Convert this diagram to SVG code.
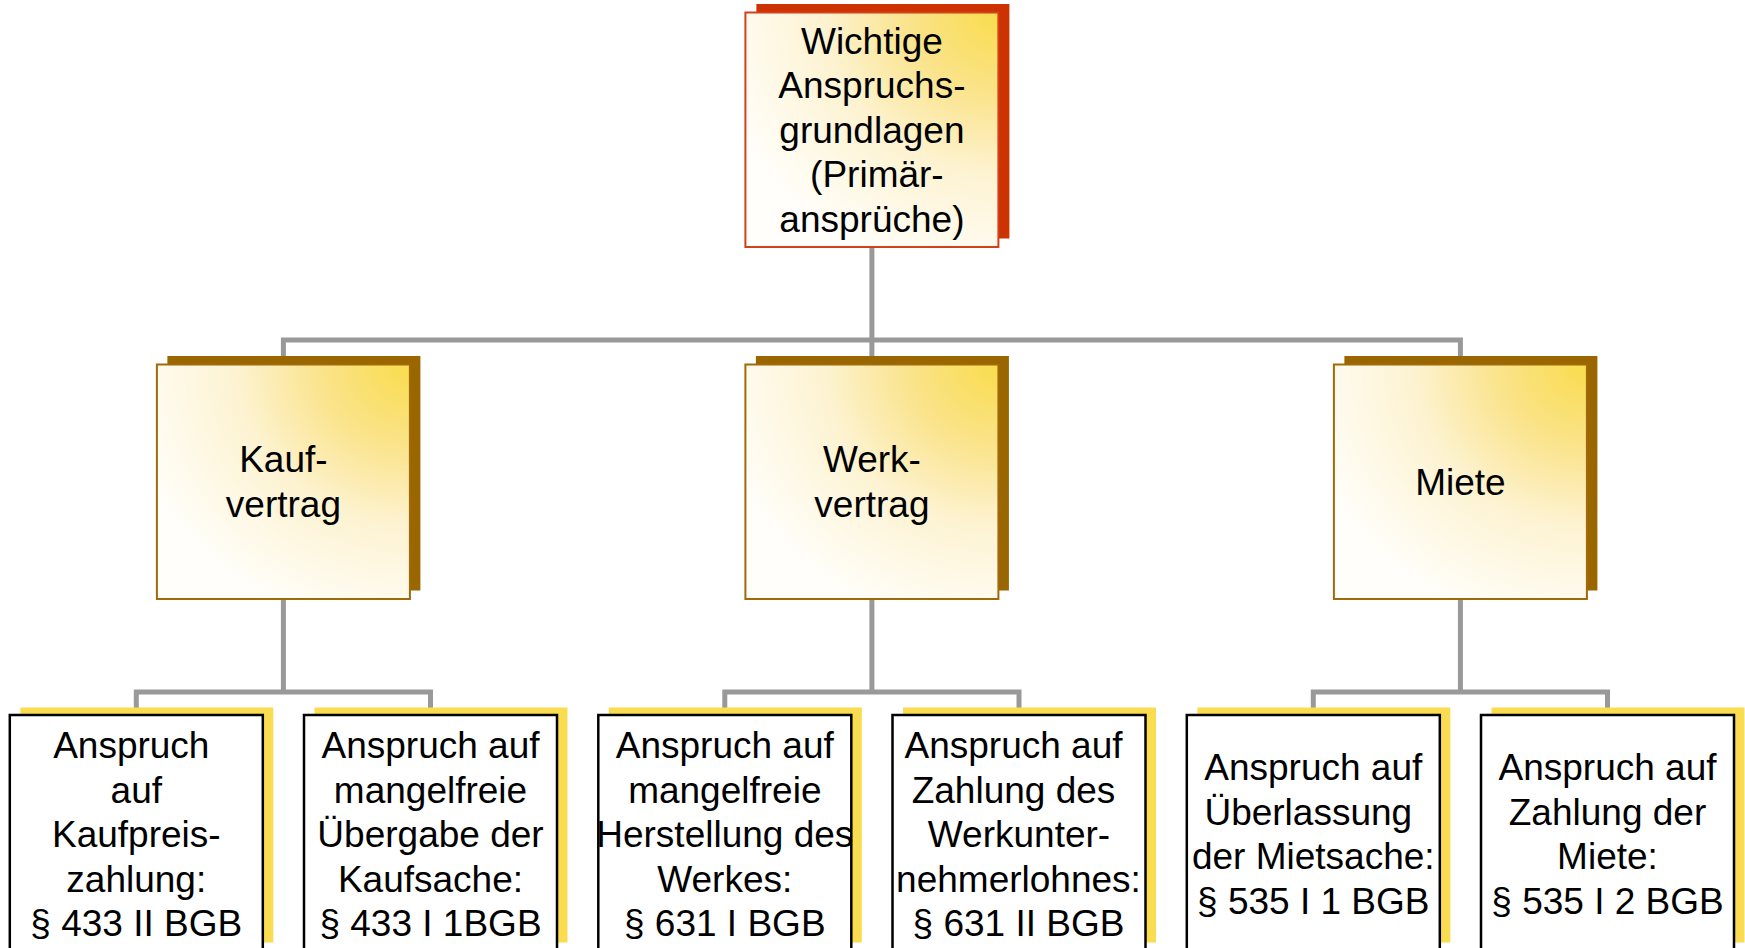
<svg xmlns="http://www.w3.org/2000/svg" width="1745" height="948" viewBox="0 0 1745 948">
<defs>
<radialGradient id="g" cx="1" cy="0" r="1.15" fx="1" fy="0">
<stop offset="0" stop-color="#F9DC4C"/>
<stop offset="0.3" stop-color="#FAE38A"/>
<stop offset="0.6" stop-color="#FDF3D2"/>
<stop offset="1" stop-color="#FFFEFA"/>
</radialGradient>
<style>
.t{font-family:"Liberation Sans",Arial,sans-serif;font-size:37px;fill:#000;text-anchor:middle}
.c{fill:none;stroke:#999;stroke-width:5}
.sTop{fill:#CC3300}
.fTop{fill:url(#g);stroke:#D4401A;stroke-width:2}
.sMid{fill:#996600}
.fMid{fill:url(#g);stroke:#A06A0A;stroke-width:2}
.sBot{fill:#F9DC50}
.fBot{fill:#fff;stroke:#000;stroke-width:2.5}
</style>
</defs>
<rect width="1745" height="948" fill="#fff"/>
<g id="connectors">
<path class="c" d="M871.9 247V365M283.4 365V340H1460.4V365"/>
<path class="c" d="M283.4 599V692M136.3 716V692H430.5V716"/>
<path class="c" d="M871.9 599V692M724.8 716V692H1019V716"/>
<path class="c" d="M1460.4 599V692M1313.3 716V692H1607.5V716"/>
</g>
<g id="root">
<rect class="sTop" x="756.4" y="4" width="253" height="234.5"/>
<rect class="fTop" x="745.4" y="12.5" width="253" height="234.5"/>
<text class="t"><tspan x="871.9" y="53.5">Wichtige</tspan><tspan x="871.9" y="98">Anspruchs-</tspan><tspan x="871.9" y="142.5">grundlagen</tspan><tspan x="876.9" y="187">(Primär-</tspan><tspan x="871.9" y="231.5">ansprüche)</tspan></text>
</g>
<g id="kaufvertrag">
<rect class="sMid" x="167.4" y="356" width="253" height="234.5"/>
<rect class="fMid" x="156.9" y="364.5" width="253" height="234.5"/>
<text class="t"><tspan x="283.4" y="472">Kauf-</tspan><tspan x="283.4" y="516.5">vertrag</tspan></text>
</g>
<g id="werkvertrag">
<rect class="sMid" x="755.9" y="356" width="253" height="234.5"/>
<rect class="fMid" x="745.4" y="364.5" width="253" height="234.5"/>
<text class="t"><tspan x="871.9" y="472">Werk-</tspan><tspan x="871.9" y="516.5">vertrag</tspan></text>
</g>
<g id="miete">
<rect class="sMid" x="1344.4" y="356" width="253" height="234.5"/>
<rect class="fMid" x="1333.9" y="364.5" width="253" height="234.5"/>
<text class="t"><tspan x="1460.4" y="494.5">Miete</tspan></text>
</g>
<g id="kaufpreis">
<rect class="sBot" x="20.3" y="707.5" width="253" height="235"/>
<rect class="fBot" x="9.8" y="715" width="253" height="236"/>
<text class="t"><tspan x="131.3" y="758">Anspruch</tspan><tspan x="136.3" y="802.5">auf</tspan><tspan x="136.3" y="847">Kaufpreis-</tspan><tspan x="136.3" y="891.5">zahlung:</tspan><tspan x="136.3" y="936">§ 433 II BGB</tspan></text>
</g>
<g id="uebergabe">
<rect class="sBot" x="314.5" y="707.5" width="253" height="235"/>
<rect class="fBot" x="304" y="715" width="253" height="236"/>
<text class="t"><tspan x="430.5" y="758">Anspruch auf</tspan><tspan x="430.5" y="802.5">mangelfreie</tspan><tspan x="430.5" y="847">Übergabe der</tspan><tspan x="430.5" y="891.5">Kaufsache:</tspan><tspan x="430.5" y="936">§ 433 I 1BGB</tspan></text>
</g>
<g id="herstellung">
<rect class="sBot" x="608.8" y="707.5" width="253" height="235"/>
<rect class="fBot" x="598.3" y="715" width="253" height="236"/>
<text class="t"><tspan x="724.8" y="758">Anspruch auf</tspan><tspan x="724.8" y="802.5">mangelfreie</tspan><tspan x="724.8" y="847">Herstellung des</tspan><tspan x="724.8" y="891.5">Werkes:</tspan><tspan x="724.8" y="936">§ 631 I BGB</tspan></text>
</g>
<g id="werklohn">
<rect class="sBot" x="903" y="707.5" width="253" height="235"/>
<rect class="fBot" x="892.5" y="715" width="253" height="236"/>
<text class="t"><tspan x="1013.5" y="758">Anspruch auf</tspan><tspan x="1013.5" y="802.5">Zahlung des</tspan><tspan x="1019" y="847">Werkunter-</tspan><tspan x="1018.5" y="891.5">nehmerlohnes:</tspan><tspan x="1018.5" y="936">§ 631 II BGB</tspan></text>
</g>
<g id="ueberlassung">
<rect class="sBot" x="1197.3" y="707.5" width="253" height="235"/>
<rect class="fBot" x="1186.8" y="715" width="253" height="236"/>
<text class="t"><tspan x="1313.3" y="780">Anspruch auf</tspan><tspan x="1308.3" y="824.5">Überlassung</tspan><tspan x="1313.3" y="869">der Mietsache:</tspan><tspan x="1313.3" y="913.5">§ 535 I 1 BGB</tspan></text>
</g>
<g id="mietzahlung">
<rect class="sBot" x="1491.5" y="707.5" width="253" height="235"/>
<rect class="fBot" x="1481" y="715" width="253" height="236"/>
<text class="t"><tspan x="1607.5" y="780">Anspruch auf</tspan><tspan x="1607.5" y="824.5">Zahlung der</tspan><tspan x="1607.5" y="869">Miete:</tspan><tspan x="1607.5" y="913.5">§ 535 I 2 BGB</tspan></text>
</g>
</svg>
